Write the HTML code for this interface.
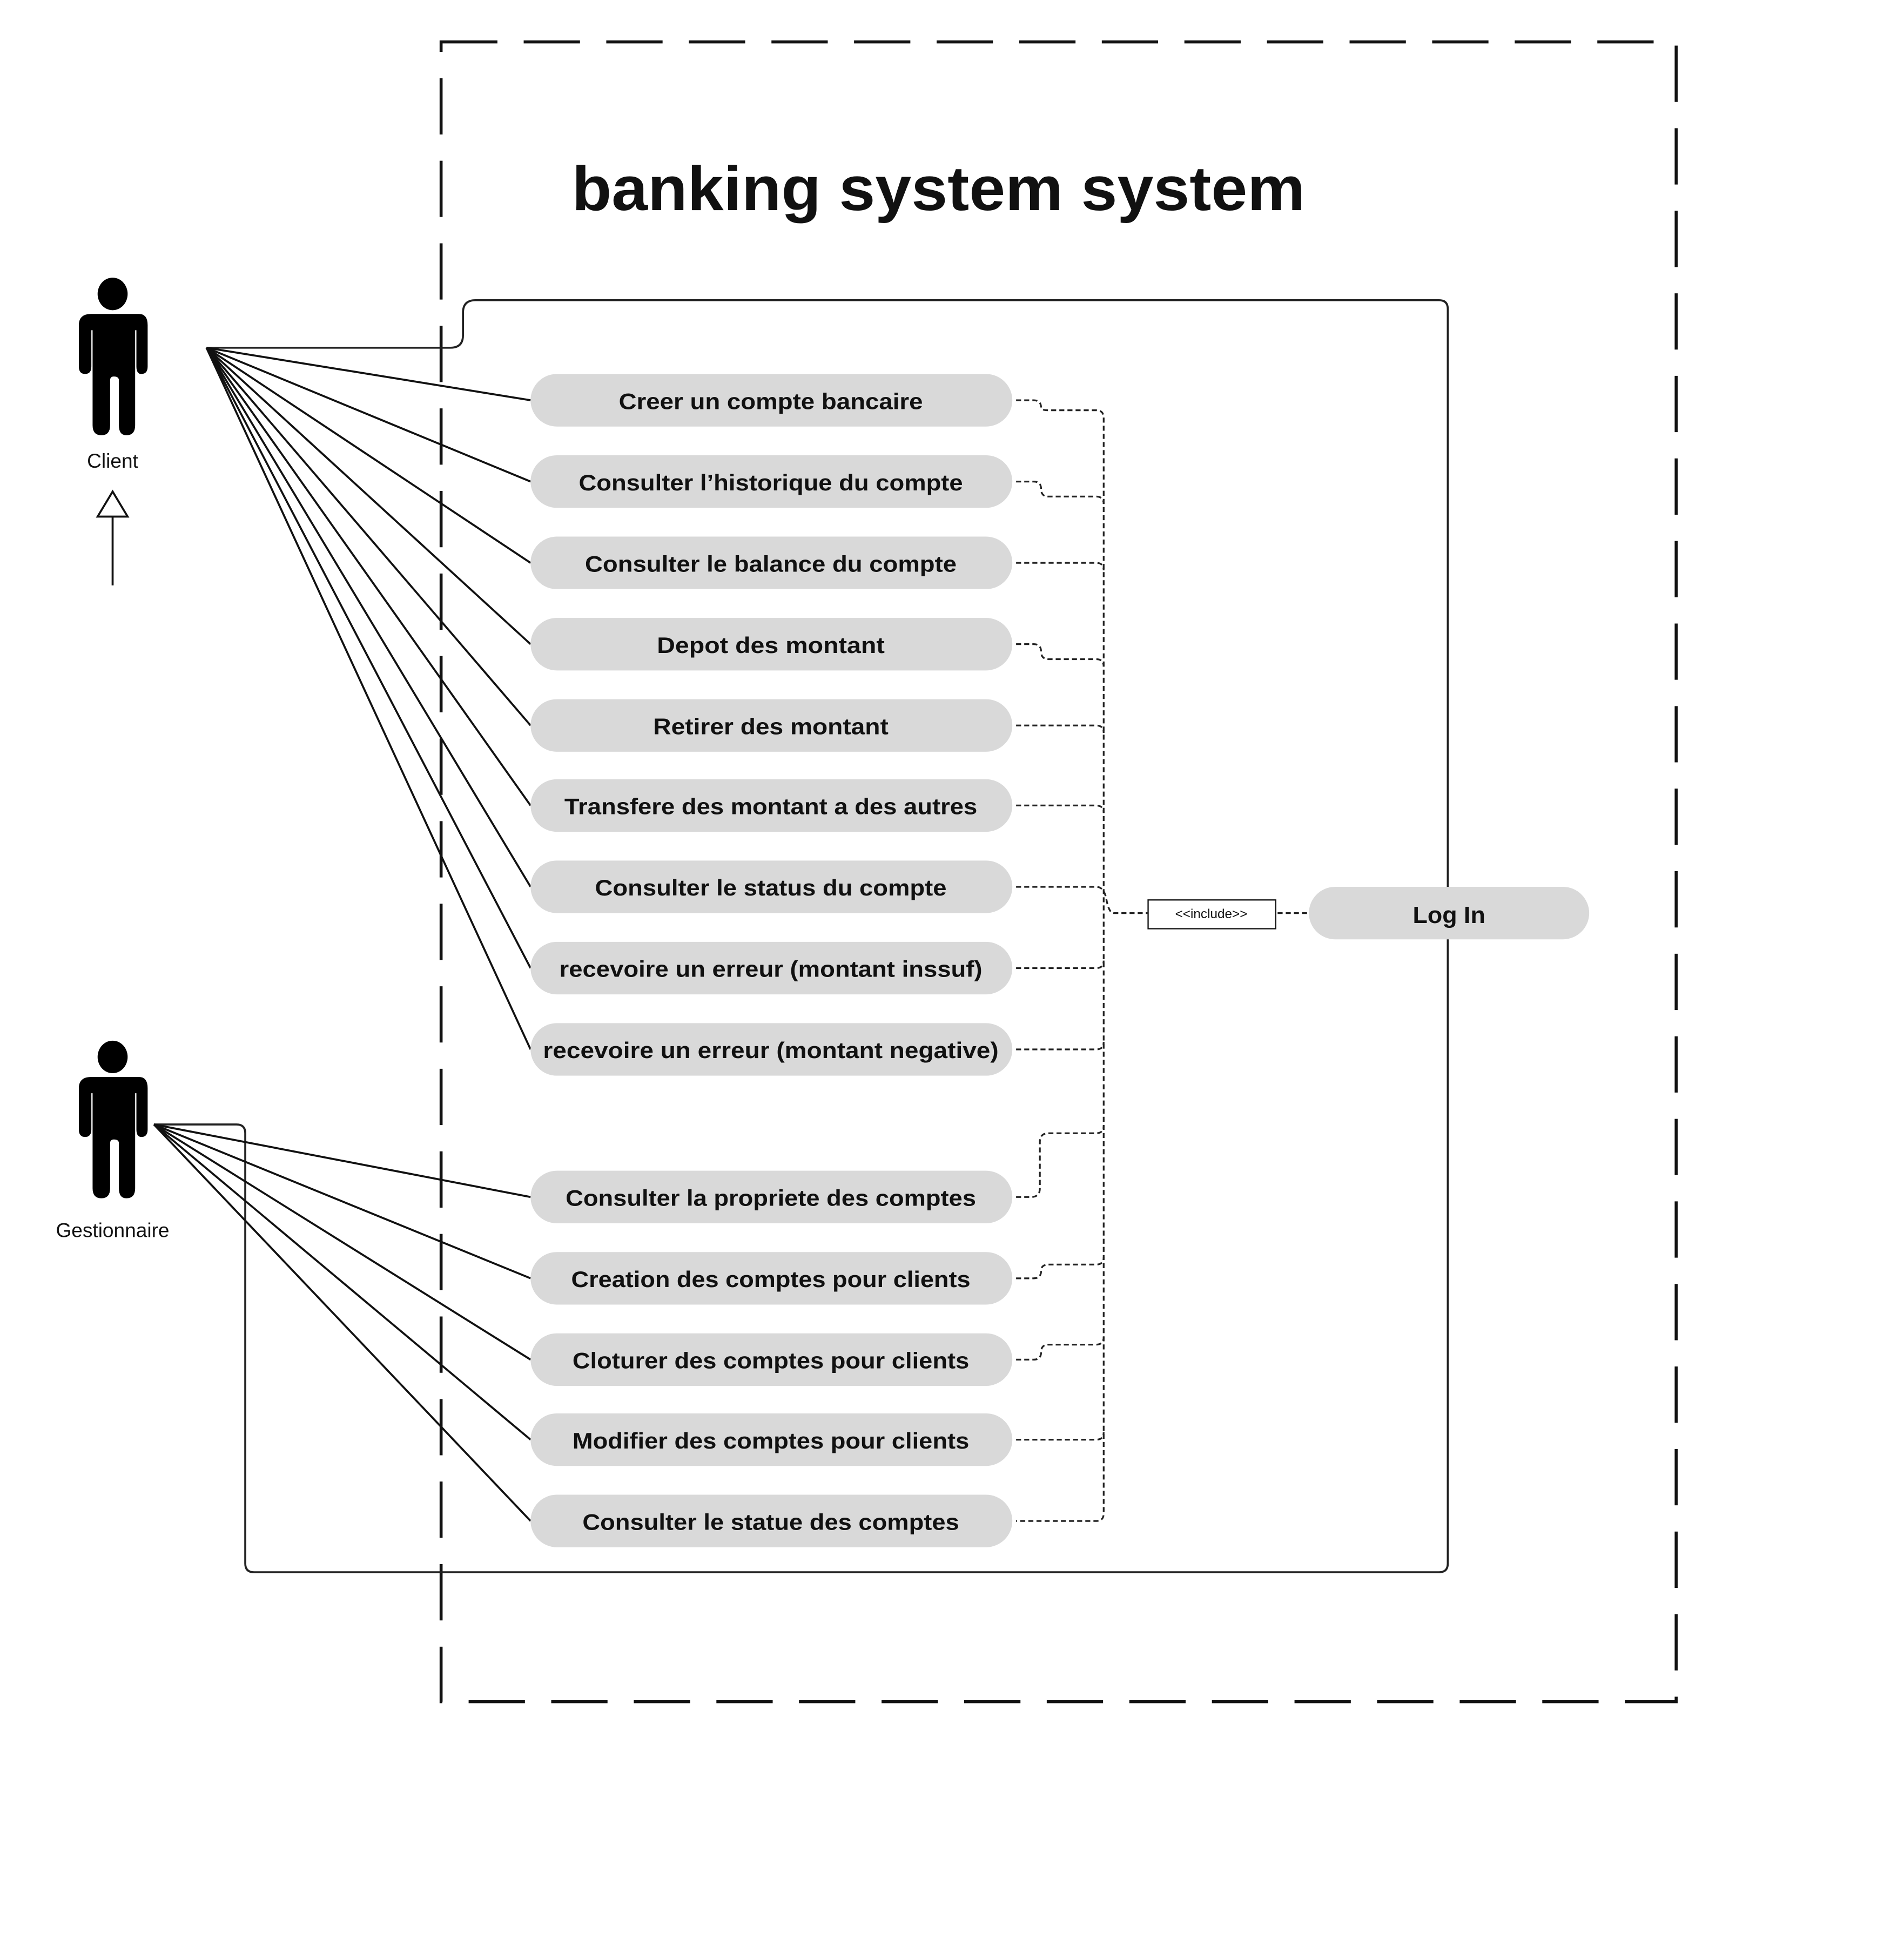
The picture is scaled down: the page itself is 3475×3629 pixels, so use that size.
<!DOCTYPE html>
<html><head><meta charset="utf-8"><style>
html,body{margin:0;padding:0;background:#fff;}
svg{display:block;}
text{font-family:"Liberation Sans",sans-serif;font-weight:bold;fill:#111;}
</style></head><body>
<svg width="3475" height="3629" viewBox="0 0 1500 1567" preserveAspectRatio="none" xmlns="http://www.w3.org/2000/svg">
<rect x="0" y="0" width="1500" height="1567" fill="#fff"/>
<!-- outer dashed system boundary -->
<rect x="352.5" y="33.5" width="987" height="1327" fill="none" stroke="#111" stroke-width="2.4" stroke-dasharray="45,21"/>
<text x="457" y="168" font-size="50" textLength="586" lengthAdjust="spacingAndGlyphs">banking system system</text>

<!-- inner connector path -->
<path d="M165,278 L360,278 Q370,278 370,268 L370,250 Q370,240 380,240 L1150,240 Q1157,240 1157,247 L1157,1250 Q1157,1257 1150,1257 L203,1257 Q196,1257 196,1250 L196,906 Q196,899 189,899 L123,899" fill="none" stroke="#222" stroke-width="1.6"/>

<!-- client actor lines -->
<g stroke="#111" stroke-width="1.6" fill="none">
<line x1="165" y1="278" x2="424" y2="320"/>
<line x1="165" y1="278" x2="424" y2="385"/>
<line x1="165" y1="278" x2="424" y2="450"/>
<line x1="165" y1="278" x2="424" y2="515"/>
<line x1="165" y1="278" x2="424" y2="580"/>
<line x1="165" y1="278" x2="424" y2="644"/>
<line x1="165" y1="278" x2="424" y2="709"/>
<line x1="165" y1="278" x2="424" y2="774"/>
<line x1="165" y1="278" x2="424" y2="839"/>
<line x1="123" y1="899" x2="424" y2="957"/>
<line x1="123" y1="899" x2="424" y2="1022"/>
<line x1="123" y1="899" x2="424" y2="1087"/>
<line x1="123" y1="899" x2="424" y2="1151"/>
<line x1="123" y1="899" x2="424" y2="1216"/>
</g>

<!-- dashed include connectors -->
<g stroke="#222" stroke-width="1.4" fill="none" stroke-dasharray="4,2.5">
<path d="M812,320 L826,320 Q832,320 832,326 Q832,328 838,328 L876,328 Q882,328 882,334 L882,1210 Q882,1216 876,1216 L812,1216"/>
<path d="M812,385 L826,385 Q832,385 832,391 Q832,397 838,397 L876,397 Q882,397 882,403"/>
<path d="M812,450 L876,450 Q882,450 882,456"/>
<path d="M812,515 L826,515 Q832,515 832,521 Q832,527 838,527 L876,527 Q882,527 882,533"/>
<path d="M812,580 L876,580 Q882,580 882,586"/>
<path d="M812,644 L876,644 Q882,644 882,650"/>
<path d="M812,709 L876,709 Q882,709 884,718 Q886,730 890,730 L917,730"/>
<path d="M812,774 L876,774 Q882,774 882,768"/>
<path d="M812,839 L876,839 Q882,839 882,833"/>
<path d="M812,957 L824,957 Q831,957 831,950 L831,913 Q831,906 838,906 L876,906 Q882,906 882,900"/>
<path d="M812,1022 L826,1022 Q832,1022 832,1016 Q832,1011 838,1011 L876,1011 Q882,1011 882,1005"/>
<path d="M812,1087 L826,1087 Q832,1087 832,1081 Q832,1075 838,1075 L876,1075 Q882,1075 882,1069"/>
<path d="M812,1151 L876,1151 Q882,1151 882,1145"/>
<path d="M1021,730 L1046,730"/>
</g>

<!-- include box -->
<rect x="917.5" y="719.5" width="102" height="23" fill="#fff" stroke="#111" stroke-width="1"/>
<text x="968" y="734" font-size="10.5" font-weight="normal" text-anchor="middle" style="font-weight:normal">&lt;&lt;include&gt;&gt;</text>

<!-- use case pills -->
<g fill="#d9d9d9">
<rect x="424" y="299" width="385" height="42" rx="21"/>
<rect x="424" y="364" width="385" height="42" rx="21"/>
<rect x="424" y="429" width="385" height="42" rx="21"/>
<rect x="424" y="494" width="385" height="42" rx="21"/>
<rect x="424" y="559" width="385" height="42" rx="21"/>
<rect x="424" y="623" width="385" height="42" rx="21"/>
<rect x="424" y="688" width="385" height="42" rx="21"/>
<rect x="424" y="753" width="385" height="42" rx="21"/>
<rect x="424" y="818" width="385" height="42" rx="21"/>
<rect x="424" y="936" width="385" height="42" rx="21"/>
<rect x="424" y="1001" width="385" height="42" rx="21"/>
<rect x="424" y="1066" width="385" height="42" rx="21"/>
<rect x="424" y="1130" width="385" height="42" rx="21"/>
<rect x="424" y="1195" width="385" height="42" rx="21"/>
<rect x="1046" y="709" width="224" height="42" rx="21"/>
</g>
<g font-size="18" text-anchor="middle">
<text x="616" y="327" textLength="243" lengthAdjust="spacingAndGlyphs">Creer un compte bancaire</text>
<text x="616" y="392" textLength="307" lengthAdjust="spacingAndGlyphs">Consulter l’historique du compte</text>
<text x="616" y="457" textLength="297" lengthAdjust="spacingAndGlyphs">Consulter le balance du compte</text>
<text x="616" y="522" textLength="182" lengthAdjust="spacingAndGlyphs">Depot des montant</text>
<text x="616" y="587" textLength="188" lengthAdjust="spacingAndGlyphs">Retirer des montant</text>
<text x="616" y="651" textLength="330" lengthAdjust="spacingAndGlyphs">Transfere des montant a des autres</text>
<text x="616" y="716" textLength="281" lengthAdjust="spacingAndGlyphs">Consulter le status du compte</text>
<text x="616" y="781" textLength="338" lengthAdjust="spacingAndGlyphs">recevoire un erreur (montant inssuf)</text>
<text x="616" y="846" textLength="364" lengthAdjust="spacingAndGlyphs">recevoire un erreur (montant negative)</text>
<text x="616" y="964" textLength="328" lengthAdjust="spacingAndGlyphs">Consulter la propriete des comptes</text>
<text x="616" y="1029" textLength="319" lengthAdjust="spacingAndGlyphs">Creation des comptes pour clients</text>
<text x="616" y="1094" textLength="317" lengthAdjust="spacingAndGlyphs">Cloturer des comptes pour clients</text>
<text x="616" y="1158" textLength="317" lengthAdjust="spacingAndGlyphs">Modifier des comptes pour clients</text>
<text x="616" y="1223" textLength="301" lengthAdjust="spacingAndGlyphs">Consulter le statue des comptes</text>
<text x="1158" y="738" font-size="19" textLength="58" lengthAdjust="spacingAndGlyphs">Log In</text>
</g>

<!-- actors -->
<g fill="#000">
<ellipse cx="90" cy="235" rx="12" ry="13"/>
<path d="M73,251 L111,251 Q118,251 118,260 L118,293 Q118,299 113,299 Q109,299 109,293 L109,264 L108,264 L108,340 Q108,348 101,348 Q95,348 95,340 L95,304 Q95,301 91,301 Q88,301 88,304 L88,340 Q88,348 81,348 Q74,348 74,340 L74,264 L73,264 L73,293 Q73,299 68,299 Q63,299 63,293 L63,260 Q63,251 73,251 Z"/>
<ellipse cx="90" cy="845" rx="12" ry="13"/>
<path d="M73,861 L111,861 Q118,861 118,870 L118,903 Q118,909 113,909 Q109,909 109,903 L109,874 L108,874 L108,950 Q108,958 101,958 Q95,958 95,950 L95,914 Q95,911 91,911 Q88,911 88,914 L88,950 Q88,958 81,958 Q74,958 74,950 L74,874 L73,874 L73,903 Q73,909 68,909 Q63,909 63,903 L63,870 Q63,861 73,861 Z"/>
</g>
<text x="90" y="374" font-size="16" text-anchor="middle" style="font-weight:normal">Client</text>
<text x="90" y="989" font-size="16" text-anchor="middle" style="font-weight:normal">Gestionnaire</text>

<!-- generalization arrow -->
<line x1="90" y1="413" x2="90" y2="468" stroke="#111" stroke-width="1.6"/>
<polygon points="90,393 78,413 102,413" fill="#fff" stroke="#111" stroke-width="1.6"/>
</svg>
</body></html>
